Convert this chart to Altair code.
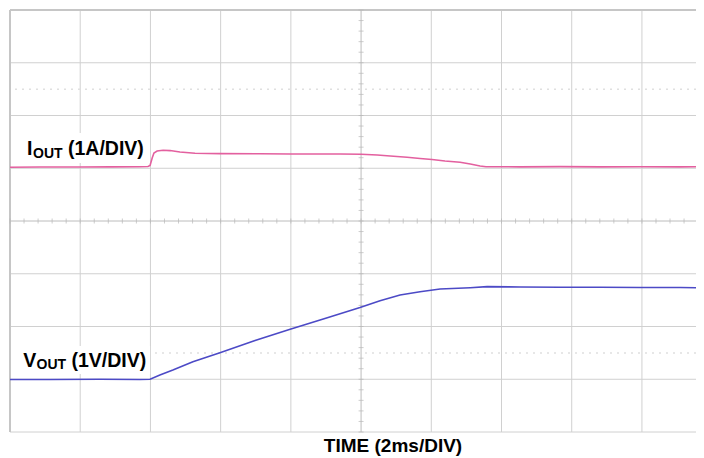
import altair as alt
import pandas as pd

# time in ms (2 ms/div), vertical position in screen divisions (8 div tall)
i_t = [0, 0.85, 2.0, 2.85, 3.7, 3.93, 3.99, 4.05, 4.1, 4.19, 4.36, 4.56, 4.84, 5.27, 5.98,
       7.12, 7.98, 8.83, 9.4, 10.0, 10.46, 10.83, 11.31, 11.68, 12.02, 12.39, 12.82, 13.11,
       13.39, 13.56, 14.53, 15.67, 16.81, 17.95, 19.09, 19.54]
i_y = [5.018, 5.024, 5.024, 5.027, 5.029, 5.033, 5.052, 5.194, 5.289, 5.327, 5.340, 5.335,
       5.308, 5.283, 5.278, 5.274, 5.270, 5.270, 5.270, 5.265, 5.251, 5.232, 5.208, 5.185,
       5.166, 5.137, 5.113, 5.081, 5.043, 5.029, 5.027, 5.031, 5.027, 5.029, 5.027, 5.029]

v_t = [0, 1.14, 2.56, 3.70, 3.99, 4.27, 4.64, 5.21, 5.98, 6.98, 7.98, 8.97, 9.97, 10.54,
       11.11, 11.68, 12.25, 13.11, 13.59, 14.53, 15.67, 16.81, 17.95, 19.09, 19.54]
v_y = [0.995, 0.995, 0.999, 0.995, 0.999, 1.081, 1.175, 1.333, 1.503, 1.735, 1.947, 2.152,
       2.360, 2.489, 2.597, 2.660, 2.711, 2.736, 2.755, 2.749, 2.743, 2.745, 2.739, 2.739, 2.736]

x_grid = [2, 4, 6, 8, 12, 14, 16, 18]
y_grid = [0, 1, 2, 3, 5, 6, 7]
ghost_y = [1.5, 6.5]

# label annotations (positions in ms / divisions)
lab_main_t = [0.484, 1.652, 0.379, 1.752]
lab_main_y = [5.251, 5.251, 1.238, 1.238]
lab_main_txt = ["I", "(1A/DIV)", "V", "(1V/DIV)"]
lab_sub_t = [0.655, 0.755]
lab_sub_y = [5.20, 1.189]
lab_sub_txt = ["OUT", "OUT"]
box_t = [0.114, 0.114]
box_t2 = [3.99, 3.99]
box_y = [5.10, 1.10]
box_y2 = [5.67, 1.63]
x_title = "TIME (2ms/DIV)"
x_title_t = 10.91

XDOM = [0, 19.54]
YDOM = [0, 8]
xs = alt.Scale(domain=XDOM, nice=False, zero=False)
ys = alt.Scale(domain=YDOM, nice=False, zero=False)
FONT = "Liberation Sans"
GRID = "#d0d0d0"

X = lambda f="t:Q": alt.X(f, scale=xs, axis=None)
Y = lambda f="y:Q": alt.Y(f, scale=ys, axis=None)

df_i = pd.DataFrame({"t": i_t, "y": i_y})
df_v = pd.DataFrame({"t": v_t, "y": v_y})

# minor tick marks along centre graticule lines (1/5 division)
xt = pd.DataFrame({"t": [k * 0.4 for k in range(0, 49)], "y": 4})
yt = pd.DataFrame({"y": [k * 0.2 for k in range(0, 41)], "t": 10})

vgrid = alt.Chart(pd.DataFrame({"t": x_grid})).mark_rule(color=GRID, strokeWidth=1).encode(x=X())
hgrid = alt.Chart(pd.DataFrame({"y": y_grid})).mark_rule(color=GRID, strokeWidth=1).encode(y=Y())

# plot's open right edge (the graticule continues past the picture)
edge_cover = alt.Chart(pd.DataFrame({"t": [XDOM[1]]})).mark_rule(color="white", strokeWidth=3).encode(x=X())

border_top = alt.Chart(pd.DataFrame({"y": [8]})).mark_rule(color="#c6c6c6", strokeWidth=2).encode(y=Y())
border_left = alt.Chart(pd.DataFrame({"t": [0]})).mark_rule(color="#c6c6c6", strokeWidth=2).encode(x=X())

ghost = alt.Chart(pd.DataFrame({"y": ghost_y})).mark_rule(
    color="#e0e0e0", strokeWidth=1.5, strokeDash=[2, 5]).encode(y=Y())

centre_h = alt.Chart(pd.DataFrame({"y": [4]})).mark_rule(color="#bcbcbc", strokeWidth=1).encode(y=Y())
centre_v = alt.Chart(pd.DataFrame({"t": [10]})).mark_rule(color="#bcbcbc", strokeWidth=1).encode(x=X())

ticks_h = alt.Chart(xt).mark_tick(orient="vertical", size=5, thickness=1, color="#b8b8b8").encode(
    x=X(), y=Y())
ticks_v = alt.Chart(yt).mark_tick(orient="horizontal", size=5, thickness=1, color="#b8b8b8").encode(
    x=X(), y=Y())

boxes = alt.Chart(pd.DataFrame({"t": box_t, "t2": box_t2, "y": box_y, "y2": box_y2})).mark_rect(
    color="white").encode(x=X(), x2="t2:Q", y=Y(), y2="y2:Q")

line_i = alt.Chart(df_i).mark_line(color="#e3609f", strokeWidth=1.6).encode(x=X(), y=Y())
line_v = alt.Chart(df_v).mark_line(color="#4c4ac6", strokeWidth=1.6).encode(x=X(), y=Y())

txt_main = alt.Chart(pd.DataFrame({"t": lab_main_t, "y": lab_main_y, "s": lab_main_txt})).mark_text(
    align="left", baseline="alphabetic", font=FONT, fontSize=19.5, fontWeight="bold",
    color="#000000").encode(x=X(), y=Y(), text="s:N")
txt_sub = alt.Chart(pd.DataFrame({"t": lab_sub_t, "y": lab_sub_y, "s": lab_sub_txt})).mark_text(
    align="left", baseline="alphabetic", font=FONT, fontSize=14, fontWeight="bold",
    color="#000000").encode(x=X(), y=Y(), text="s:N")
txt_title = alt.Chart(pd.DataFrame({"t": [x_title_t], "s": [x_title]})).mark_text(
    align="center", baseline="alphabetic", font=FONT, fontSize=19, fontWeight="bold",
    color="#000000").encode(x=X(), y=alt.value(442), text="s:N")

chart = alt.layer(
    edge_cover, vgrid, hgrid, border_top, border_left, ghost, centre_h, centre_v, ticks_h, ticks_v,
    boxes, line_i, line_v, txt_main, txt_sub, txt_title
).properties(
    width=686, height=422,
    padding={"left": 2, "top": 2, "right": 0, "bottom": 24},
    autosize=alt.AutoSizeParams(type="none"),
    background="white",
).configure_view(stroke=None, strokeWidth=0, fill="white")

chart.save("out.html", embed_options={"renderer": "svg", "actions": False})
